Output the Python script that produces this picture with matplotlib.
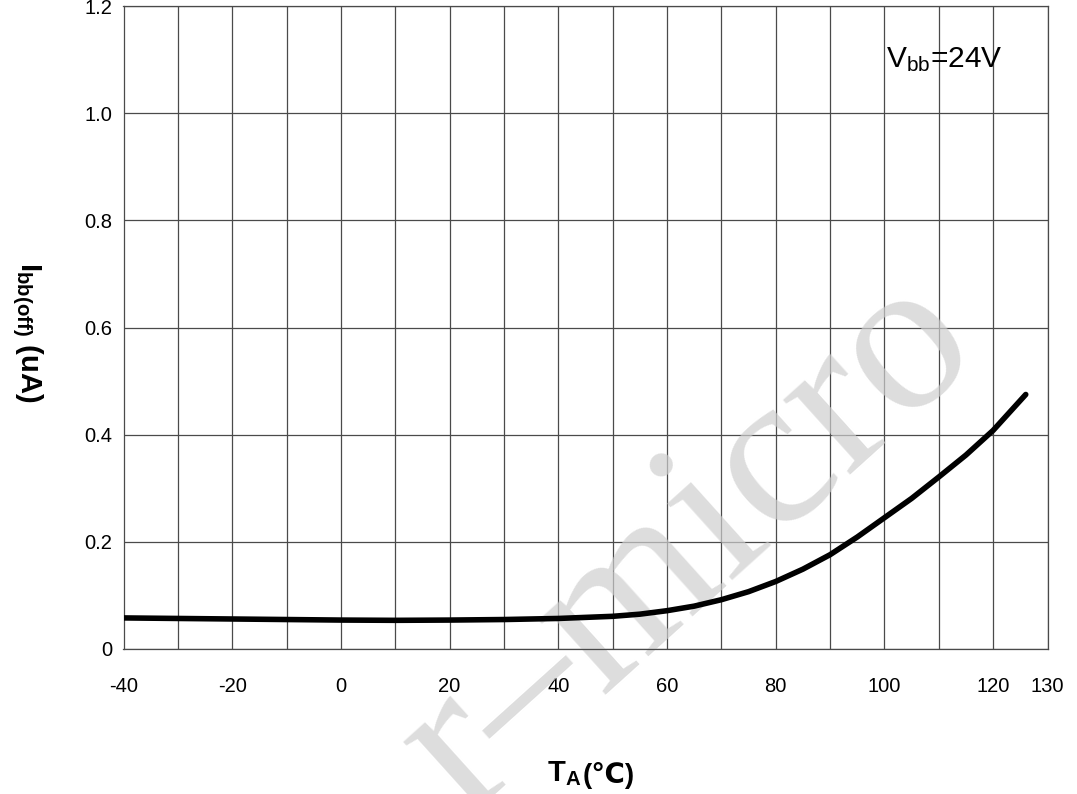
import matplotlib
matplotlib.use("Agg")
import matplotlib.pyplot as plt

# ---- data ----
temps = [-40, -30, -20, -10, 0, 10, 20, 30, 40, 50, 55, 60, 65, 70, 75, 80, 85, 90, 95, 100, 105, 110, 115, 120, 126]
ibb_off = [0.058, 0.057, 0.056, 0.055, 0.054, 0.0535, 0.054, 0.055, 0.057, 0.061, 0.065, 0.0715, 0.080, 0.092,
           0.107, 0.126, 0.149, 0.176, 0.209, 0.245, 0.281, 0.321, 0.362, 0.408, 0.475]
x_ticks = [-40, -20, 0, 20, 40, 60, 80, 100, 120, 130]
x_ticklabels = ["-40", "-20", "0", "20", "40", "60", "80", "100", "120", "130"]
y_ticks = [0, 0.2, 0.4, 0.6, 0.8, 1.0, 1.2]
y_ticklabels = ["0", "0.2", "0.4", "0.6", "0.8", "1.0", "1.2"]
x_grid = list(range(-40, 131, 10))

plt.rcParams['font.family'] = ['Liberation Sans', 'DejaVu Sans']
plt.rcParams['mathtext.fontset'] = 'custom'
plt.rcParams['mathtext.rm'] = 'Liberation Sans'
plt.rcParams['mathtext.bf'] = 'Liberation Sans:bold'
plt.rcParams['mathtext.it'] = 'Liberation Sans:italic'

W, H = 1077, 794
fig = plt.figure(figsize=(W / 100, H / 100), dpi=100)
ax = fig.add_axes([123.5 / W, 1 - 649 / H, (1047.5 - 123.5) / W, (649 - 6) / H])

gcol = '#4a4a4a'
ax.set_xlim(-40, 130)
ax.set_ylim(0, 1.2)
ax.set_xticks(x_grid, minor=True)
ax.set_xticks(x_ticks)
ax.set_xticklabels(x_ticklabels)
ax.set_yticks(y_ticks)
ax.set_yticklabels(y_ticklabels)
ax.tick_params(axis='x', which='both', length=0, pad=20, labelsize=14.5)
ax.tick_params(axis='y', which='both', length=0, pad=8, labelsize=14.5)
ax.set_axisbelow(True)
ax.grid(True, which='both', axis='x', color=gcol, lw=0.9)
ax.grid(True, which='major', axis='y', color=gcol, lw=0.9)
for s in ax.spines.values():
    s.set_color(gcol)
    s.set_linewidth(0.9)

ax.plot(temps, ibb_off, color='black', lw=4.0, solid_capstyle='round', solid_joinstyle='round', zorder=3)

# watermark
ax.text(690 / W, 1 - 545 / H, 'r\u2013micro', transform=fig.transFigure, rotation=42,
        rotation_mode='anchor', ha='center', va='center', fontsize=158,
        family='Liberation Serif', color='#cfcfcf', alpha=0.7, zorder=1, clip_on=False)

# annotation
ax.text(886 / W, 1 - 67 / H, r'V$_{\mathrm{bb}}$=24V', transform=fig.transFigure,
        ha='left', va='baseline', fontsize=21.5, zorder=4)

# y label
fig.text(27 / W, 1 - 332 / H, r'$\mathbf{I_{bb(off)}\ (uA)}$', rotation=270,
         ha='center', va='center', fontsize=21)

# x label
t1 = fig.text(547 / W, 1 - 781 / H, r'$\mathbf{T_A}$', ha='left', va='baseline', fontsize=21)
fig.canvas.draw()
ax.annotate('(\u2103)', xy=(1, 0), xycoords=t1, xytext=(1, -1), textcoords='offset points',
            ha='left', va='bottom', fontsize=20, fontweight='bold',
            family=['Liberation Sans', 'DejaVu Sans'], annotation_clip=False)

fig.savefig('out.png', dpi=100)
